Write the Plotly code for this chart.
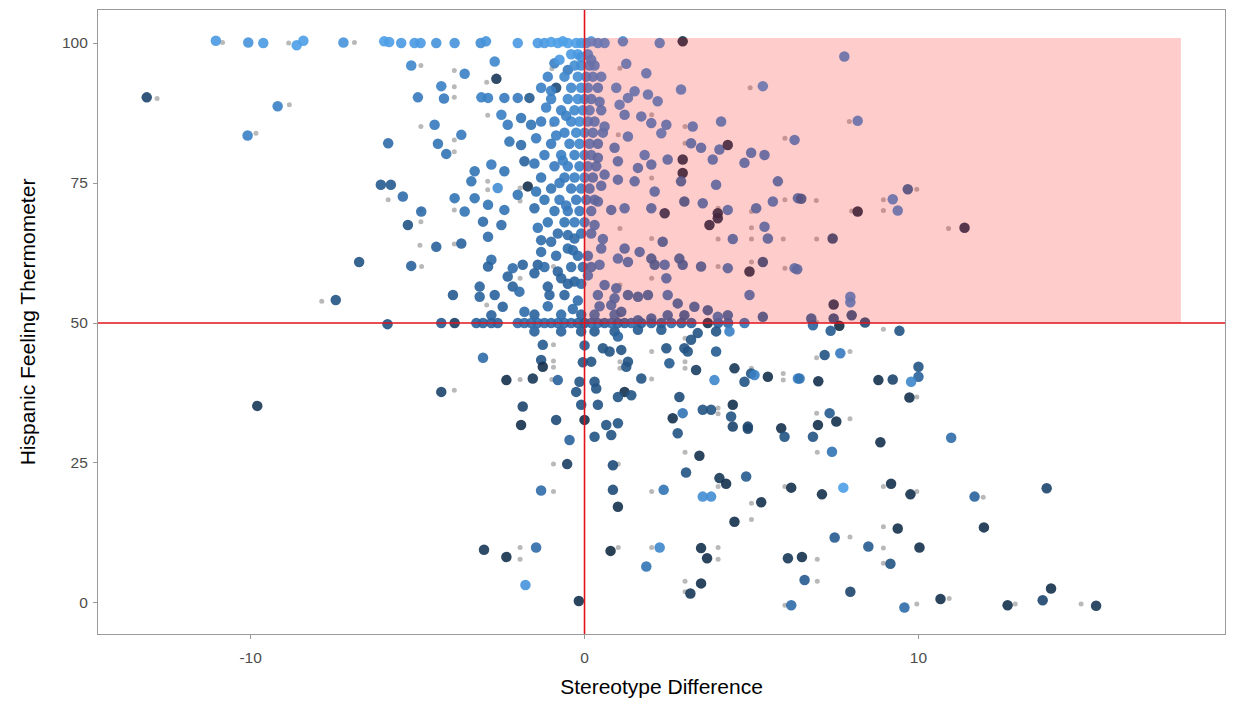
import plotly.graph_objects as go

# ---------------- data (x = stereotype difference, y = thermometer, c = shade 0 dark .. 1 light)
top_row = [
    (-11.04, 100.4, 0.8), (-10.07, 100.1, 0.75), (-9.62, 100.0, 0.8), (-8.62, 99.6, 0.85),
    (-8.42, 100.4, 0.85), (-7.22, 100.1, 0.75), (-6.0, 100.3, 0.85), (-5.85, 100.2, 0.85),
    (-5.49, 100.0, 0.8), (-5.09, 100.0, 0.8), (-4.91, 100.0, 0.8), (-4.44, 100.0, 0.75),
    (-3.89, 100.0, 0.75), (-3.11, 100.0, 0.7), (-2.95, 100.3, 0.75), (-2.0, 100.0, 0.8),
    (-1.4, 100.0, 0.8), (-1.2, 100.0, 0.8), (-1.0, 100.2, 0.85), (-0.8, 100.0, 0.85),
    (-0.65, 100.3, 0.85), (-0.5, 100.0, 0.85), (-0.25, 100.0, 0.85), (-0.1, 100.0, 0.8),
    (0.05, 100.0, 0.8), (0.2, 100.3, 0.8), (0.4, 100.0, 0.75), (0.6, 100.0, 0.75),
    (1.15, 100.3, 0.7), (2.25, 100.0, 0.7), (2.94, 100.3, 0.0),
]

upper_left = [
    (-13.11, 90.3, 0.2), (-9.19, 88.7, 0.6), (-10.09, 83.5, 0.6), (-5.88, 82.1, 0.45),
    (-6.1, 74.7, 0.35), (-5.8, 74.7, 0.35), (-5.19, 96.0, 0.65), (-3.59, 94.5, 0.6),
    (-2.69, 96.7, 0.65), (-2.64, 93.6, 0.1), (-4.29, 92.3, 0.6), (-4.99, 90.3, 0.55),
    (-4.21, 90.1, 0.55), (-3.09, 90.3, 0.6), (-2.89, 90.2, 0.6), (-2.4, 90.2, 0.55),
    (-2.0, 90.2, 0.55), (-1.65, 90.2, 0.35), (-1.3, 92.0, 0.6), (-0.85, 92.0, 0.25),
    (-0.9, 96.4, 0.6), (-0.5, 95.2, 0.55), (-4.49, 85.4, 0.55), (-3.69, 83.6, 0.55),
    (-4.39, 82.0, 0.5), (-4.14, 80.2, 0.5), (-2.3, 85.4, 0.55), (-2.49, 87.2, 0.6),
    (-1.9, 86.6, 0.5), (-1.6, 85.4, 0.5), (-2.25, 82.4, 0.5), (-1.9, 81.8, 0.45),
    (-1.8, 78.9, 0.4), (-2.79, 78.3, 0.55), (-3.29, 77.1, 0.5), (-3.39, 75.3, 0.5),
    (-2.4, 77.1, 0.5), (-2.6, 74.1, 0.7), (-1.7, 74.4, 0.05), (-2.0, 72.9, 0.5),
    (-5.44, 72.6, 0.45), (-4.89, 69.9, 0.45), (-3.89, 72.3, 0.5), (-3.59, 69.9, 0.5),
    (-3.29, 72.3, 0.5), (-2.89, 71.1, 0.5), (-2.4, 70.2, 0.5), (-1.5, 70.5, 0.45),
    (-5.29, 67.5, 0.3), (-4.44, 63.6, 0.4), (-3.69, 64.2, 0.4), (-5.19, 60.2, 0.4),
    (-3.04, 68.1, 0.45), (-2.89, 65.4, 0.45), (-2.49, 67.5, 0.45), (-2.79, 61.3, 0.45),
    (-2.89, 60.1, 0.4), (-2.15, 59.8, 0.45), (-1.85, 60.4, 0.4), (-2.3, 58.3, 0.4),
    (-2.15, 56.5, 0.4), (-1.95, 55.6, 0.45), (-1.5, 58.9, 0.4), (-1.4, 60.4, 0.4),
    (-1.3, 64.8, 0.45), (-1.0, 64.5, 0.45), (-1.3, 62.7, 0.45), (-0.8, 59.2, 0.4),
    (-0.7, 58.0, 0.4), (-0.5, 63.3, 0.45), (-0.3, 65.1, 0.45), (-0.5, 65.7, 0.45),
    (-1.1, 56.5, 0.4), (-1.05, 55.0, 0.4), (-0.6, 55.0, 0.4), (-0.3, 57.4, 0.4),
    (-3.94, 55.0, 0.35), (-3.14, 56.5, 0.4), (-3.14, 54.7, 0.4), (-2.69, 55.0, 0.4),
    (-2.45, 52.9, 0.4), (-2.79, 51.4, 0.4), (-6.75, 60.9, 0.3), (-7.45, 54.1, 0.3),
    (-5.9, 49.8, 0.3), (-9.8, 35.2, 0.1),
]

dense_core = [
    (-0.4, 98.0, 0.8), (-0.2, 98.0, 0.8), (-0.1, 97.5, 0.75), (0.1, 98.0, 0.75),
    (-0.3, 96.0, 0.7), (-0.1, 96.0, 0.7), (0.15, 96.0, 0.7), (0.3, 96.0, 0.7),
    (-1.1, 94.0, 0.6), (-0.6, 94.0, 0.65), (-0.2, 94.0, 0.7), (0.05, 94.0, 0.7), (0.25, 94.0, 0.7),
    (-0.4, 92.0, 0.65), (-0.1, 92.0, 0.7), (0.1, 92.0, 0.7), (0.4, 92.0, 0.65),
    (-1.0, 90.0, 0.6), (-0.5, 90.0, 0.65), (-0.2, 90.0, 0.7), (0.0, 90.0, 0.7), (0.2, 90.0, 0.65),
    (-0.7, 88.0, 0.6), (-0.3, 88.0, 0.65), (-0.05, 88.0, 0.7), (0.15, 88.0, 0.7), (0.5, 88.0, 0.65),
    (-1.3, 86.0, 0.55), (-0.9, 86.0, 0.6), (-0.4, 86.0, 0.65), (-0.15, 86.0, 0.7), (0.1, 86.0, 0.7), (0.3, 86.0, 0.65),
    (-0.6, 84.0, 0.6), (-0.25, 84.0, 0.65), (0.0, 84.0, 0.7), (0.25, 84.0, 0.65),
    (-1.0, 82.0, 0.55), (-0.45, 82.0, 0.6), (-0.15, 82.0, 0.65), (0.15, 82.0, 0.65), (0.4, 82.0, 0.6),
    (-1.2, 80.0, 0.55), (-0.7, 80.0, 0.6), (-0.3, 80.0, 0.6), (0.0, 80.0, 0.65), (0.2, 80.0, 0.65),
    (-0.9, 78.0, 0.55), (-0.5, 78.0, 0.6), (-0.15, 78.0, 0.6), (0.1, 78.0, 0.65), (0.35, 78.0, 0.6),
    (-1.3, 76.0, 0.5), (-0.6, 76.0, 0.55), (-0.3, 76.0, 0.6), (0.0, 76.0, 0.65), (0.25, 76.0, 0.6),
    (-1.0, 74.0, 0.5), (-0.4, 74.0, 0.55), (-0.1, 74.0, 0.6), (0.15, 74.0, 0.6),
    (-1.2, 72.0, 0.5), (-0.75, 72.0, 0.55), (-0.25, 72.0, 0.55), (0.05, 72.0, 0.6), (0.3, 72.0, 0.6),
    (-0.9, 70.0, 0.5), (-0.5, 70.0, 0.55), (-0.15, 70.0, 0.55), (0.2, 70.0, 0.6),
    (-1.1, 68.0, 0.5), (-0.6, 68.0, 0.5), (-0.3, 68.0, 0.55), (0.0, 68.0, 0.6),
    (-0.8, 66.0, 0.45), (-0.1, 66.0, 0.5), (0.2, 66.0, 0.6),
    (-0.2, 62.0, 0.45), (0.1, 62.0, 0.55), (-0.4, 60.0, 0.45), (-0.05, 60.0, 0.45), (0.2, 60.0, 0.55),
    (-0.5, 57.0, 0.4), (-0.1, 57.0, 0.45), (-1.5, 51.5, 0.4), (-0.7, 51.5, 0.45), (-0.1, 51.5, 0.4),
    (0.3, 51.5, 0.5), (0.9, 51.5, 0.5), (-1.5, 48.5, 0.4), (-0.7, 48.5, 0.4), (-0.1, 48.5, 0.35),
    (0.3, 48.5, 0.35), (0.9, 48.5, 0.35),
    (-0.75, 97.0, 0.8), (-1.15, 88.5, 0.6), (-0.55, 87.0, 0.6), (-1.45, 83.0, 0.55), (-0.85, 83.5, 0.6),
    (-1.5, 78.5, 0.5), (-0.75, 75.0, 0.55), (-1.45, 73.5, 0.5), (-0.55, 71.0, 0.55), (-1.4, 67.0, 0.5),
    (-0.85, 62.0, 0.45), (-1.2, 60.0, 0.45), (-0.2, 54.0, 0.45), (0.4, 55.0, 0.55), (0.45, 53.0, 0.55),
    (-0.35, 52.5, 0.45), (-1.1, 53.0, 0.45), (-1.8, 52.0, 0.45), (0.55, 65.0, 0.6), (0.5, 74.5, 0.6),
    (0.55, 84.0, 0.65), (0.5, 94.0, 0.7), (-0.35, 63.0, 0.45), (-0.65, 79.0, 0.6), (-1.0, 91.5, 0.6),
]

fifty_row = [
    (-4.29, 50.0, 0.35), (-3.89, 50.0, 0.15), (-3.24, 50.0, 0.4), (-3.04, 50.0, 0.4),
    (-2.79, 50.0, 0.4), (-2.6, 50.0, 0.4), (-2.0, 50.0, 0.45), (-1.8, 50.0, 0.45),
    (-1.6, 50.0, 0.45), (-1.4, 50.0, 0.45), (-1.2, 50.0, 0.45), (-1.0, 50.0, 0.45),
    (-0.8, 50.0, 0.45), (-0.6, 50.0, 0.45), (-0.4, 50.0, 0.45), (-0.2, 50.0, 0.4),
    (0.0, 50.0, 0.35), (0.2, 50.0, 0.45), (0.4, 50.0, 0.45), (0.6, 50.0, 0.4),
    (0.8, 50.0, 0.45), (1.0, 50.0, 0.4), (1.2, 50.0, 0.4), (1.4, 50.0, 0.45),
    (1.7, 50.0, 0.4), (2.0, 50.0, 0.4), (2.3, 50.0, 0.4), (2.6, 50.0, 0.45),
    (2.9, 50.0, 0.4), (3.2, 50.0, 0.4), (3.69, 50.0, 0.05), (4.0, 50.0, 0.4),
    (4.3, 50.0, 0.45), (4.79, 50.0, 0.5),
]

pink_region = [
    (1.25, 96.3, 0.7), (1.85, 94.6, 0.7), (0.95, 92.0, 0.7), (1.5, 91.4, 0.7), (1.9, 90.8, 0.7),
    (2.19, 89.6, 0.7), (2.89, 91.7, 0.7), (5.34, 92.3, 0.75), (1.05, 89.0, 0.7), (1.3, 90.2, 0.7),
    (1.2, 87.2, 0.65), (1.7, 86.9, 0.65), (2.0, 85.7, 0.65), (2.45, 85.4, 0.65), (3.24, 85.1, 0.65),
    (4.09, 86.0, 0.65), (6.29, 82.7, 0.65), (0.6, 85.1, 0.65), (1.3, 83.3, 0.65), (2.3, 83.9, 0.7),
    (3.19, 82.1, 0.6), (3.49, 81.3, 0.6), (4.04, 81.0, 0.6), (4.29, 81.8, 0.05), (4.99, 80.4, 0.6),
    (5.39, 80.0, 0.6), (4.79, 78.6, 0.6), (3.84, 79.2, 0.6), (2.94, 79.2, 0.05), (2.94, 76.8, 0.0),
    (2.49, 79.2, 0.6), (1.8, 80.0, 0.65), (0.9, 81.3, 0.6), (1.0, 78.9, 0.6), (1.6, 77.7, 0.6),
    (2.0, 78.3, 0.6), (0.4, 79.5, 0.6), (1.5, 75.3, 0.6), (1.0, 75.6, 0.6), (0.6, 76.5, 0.6),
    (2.1, 73.5, 0.6), (2.89, 75.3, 0.45), (3.94, 74.7, 0.6), (5.79, 75.3, 0.55), (6.39, 72.3, 0.55),
    (5.64, 71.7, 0.6), (2.99, 71.7, 0.4), (3.54, 71.4, 0.55), (3.99, 69.6, 0.05), (4.29, 70.2, 0.6),
    (5.14, 70.5, 0.55), (2.4, 69.6, 0.1), (2.0, 70.5, 0.55), (1.2, 70.5, 0.6), (0.8, 70.2, 0.55),
    (0.4, 71.7, 0.6), (7.78, 97.6, 0.7), (8.18, 86.1, 0.7), (6.49, 72.2, 0.4), (9.68, 73.9, 0.4),
    (9.23, 72.1, 0.7), (9.38, 70.1, 0.7), (8.18, 69.9, 0.0), (3.74, 67.5, 0.05), (3.99, 68.7, 0.05),
    (5.39, 67.2, 0.6), (5.49, 65.1, 0.55), (4.44, 65.0, 0.55), (2.34, 64.5, 0.45), (1.2, 63.3, 0.55),
    (1.65, 62.7, 0.55), (2.0, 61.5, 0.45), (2.1, 60.4, 0.45), (2.84, 61.5, 0.45), (2.94, 60.4, 0.45),
    (2.4, 60.4, 0.55), (3.49, 60.1, 0.45), (4.29, 59.8, 0.55), (4.94, 59.2, 0.05), (5.34, 60.9, 0.3),
    (6.29, 59.8, 0.65), (2.45, 58.0, 0.55), (1.3, 60.9, 0.55), (1.0, 61.5, 0.6), (0.5, 63.3, 0.6),
    (0.45, 60.4, 0.6), (0.6, 56.8, 0.55), (0.95, 56.2, 0.55), (1.3, 55.0, 0.45), (1.6, 54.7, 0.45),
    (1.9, 55.0, 0.45), (2.49, 55.0, 0.55), (2.79, 53.5, 0.45), (3.29, 52.9, 0.45), (3.69, 52.3, 0.4),
    (4.94, 55.0, 0.55), (4.29, 51.4, 0.45), (5.34, 51.1, 0.4), (0.8, 53.2, 0.55), (1.1, 52.0, 0.45),
    (0.9, 54.4, 0.55), (2.49, 51.4, 0.45), (2.99, 51.4, 0.4), (2.0, 50.8, 0.45), (1.6, 50.5, 0.45),
    (3.99, 51.1, 0.55), (11.38, 67.0, 0.05), (7.43, 65.1, 0.25), (6.37, 59.6, 0.6), (7.46, 53.3, 0.1),
    (7.96, 54.7, 0.7), (7.96, 53.7, 0.7), (8.0, 51.4, 0.3), (6.79, 50.8, 0.4), (7.46, 50.8, 0.3),
    (8.4, 50.1, 0.25), (0.2, 97.0, 0.7), (0.1, 58.5, 0.6), (0.3, 67.5, 0.6), (0.45, 89.5, 0.65),
]

lower_region = [
    (-1.25, 46.1, 0.35), (-1.3, 43.4, 0.3), (-1.25, 42.2, 0.05), (-0.8, 39.8, 0.4), (-1.55, 40.1, 0.1),
    (-2.34, 39.8, 0.05), (-3.04, 43.8, 0.45), (-4.29, 37.7, 0.2), (-0.25, 37.7, 0.3), (-1.85, 35.1, 0.2),
    (-0.85, 32.7, 0.25), (-1.9, 31.8, 0.05), (0.0, 32.7, 0.05), (-0.1, 35.4, 0.3), (-0.15, 39.5, 0.3),
    (-0.05, 43.0, 0.3), (-0.45, 29.1, 0.4), (-0.52, 24.8, 0.15), (-1.3, 20.1, 0.45), (-3.01, 9.5, 0.1),
    (-2.34, 8.2, 0.05), (-1.45, 9.9, 0.45), (-1.77, 3.2, 0.75), (-0.17, 0.36, 0.05), (0.0, 46.0, 0.35),
    (6.84, 49.6, 0.4), (7.63, 49.5, 0.0), (7.37, 48.6, 0.35), (9.43, 48.6, 0.3), (1.0, 47.6, 0.4),
    (1.6, 48.8, 0.35), (2.3, 48.8, 0.35), (3.39, 48.2, 0.3), (3.94, 48.5, 0.3), (4.34, 48.5, 0.6),
    (3.19, 47.0, 0.3), (0.55, 45.5, 0.3), (0.75, 44.9, 0.3), (1.1, 45.2, 0.3), (2.45, 45.5, 0.3),
    (2.99, 45.5, 0.3), (3.09, 44.9, 0.3), (3.94, 44.9, 0.35), (0.2, 43.1, 0.3), (1.3, 43.1, 0.3),
    (1.25, 42.2, 0.3), (2.54, 42.8, 0.35), (3.34, 41.6, 0.15), (4.49, 41.9, 0.1), (4.99, 41.0, 0.3),
    (5.09, 40.7, 0.6), (5.49, 40.4, 0.05), (6.39, 40.1, 0.6), (3.89, 39.8, 0.65), (1.7, 40.1, 0.3),
    (4.79, 39.5, 0.3), (0.3, 39.5, 0.3), (0.35, 38.3, 0.3), (1.2, 37.7, 0.05), (1.0, 36.8, 0.3),
    (1.4, 37.1, 0.3), (0.4, 35.4, 0.3), (2.84, 36.8, 0.25), (2.94, 33.9, 0.5), (2.64, 33.0, 0.05),
    (3.54, 34.5, 0.3), (3.79, 34.5, 0.3), (4.44, 35.4, 0.05), (4.39, 33.3, 0.3), (4.89, 31.5, 0.2),
    (5.89, 31.2, 0.05), (0.65, 31.8, 0.3), (1.0, 32.1, 0.3), (7.19, 44.3, 0.3), (7.66, 44.6, 0.55),
    (6.44, 40.1, 0.5), (7.0, 39.6, 0.05), (8.8, 39.8, 0.05), (9.23, 39.9, 0.2), (10.0, 42.2, 0.3),
    (10.0, 40.4, 0.4), (9.78, 39.5, 0.65), (9.73, 36.7, 0.05), (7.34, 33.9, 0.35), (7.54, 32.4, 0.05),
    (6.99, 31.8, 0.05), (0.3, 29.7, 0.3), (0.8, 30.0, 0.3), (2.79, 30.3, 0.3), (4.44, 31.5, 0.2),
    (4.89, 31.1, 0.2), (5.99, 29.7, 0.3), (3.44, 26.3, 0.05), (0.85, 24.6, 0.25), (3.04, 23.3, 0.3),
    (4.04, 22.3, 0.1), (4.24, 21.3, 0.05), (4.84, 22.6, 0.35), (6.19, 20.6, 0.05), (0.85, 20.2, 0.25),
    (2.37, 20.2, 0.5), (3.54, 19.0, 0.7), (3.79, 19.0, 0.7), (1.0, 17.2, 0.05), (5.29, 18.0, 0.05),
    (4.49, 14.5, 0.05), (0.78, 9.3, 0.0), (2.25, 9.9, 0.65), (1.85, 6.5, 0.5), (3.49, 9.8, 0.05),
    (3.67, 8.0, 0.05), (3.49, 3.5, 0.05), (3.17, 1.7, 0.1), (6.09, 8.0, 0.1), (6.19, -0.4, 0.45),
    (6.84, 29.7, 0.3), (7.41, 27.0, 0.5), (8.86, 28.7, 0.05), (10.98, 29.5, 0.45), (7.75, 20.6, 0.85),
    (7.11, 19.4, 0.05), (9.18, 21.3, 0.05), (9.76, 19.4, 0.05), (11.68, 19.0, 0.4), (13.84, 20.5, 0.2),
    (11.96, 13.5, 0.05), (9.38, 13.3, 0.05), (7.49, 11.7, 0.35), (8.5, 10.1, 0.35), (10.03, 9.9, 0.05),
    (6.51, 8.2, 0.05), (9.16, 7.0, 0.3), (6.59, 4.1, 0.35), (7.96, 2.0, 0.2), (9.58, -0.8, 0.45),
    (10.66, 0.7, 0.05), (12.67, -0.4, 0.05), (13.72, 0.5, 0.2), (13.97, 2.6, 0.05), (15.32, -0.5, 0.1),
]

grey_left = [
    (-10.84, 100.1), (-8.86, 100.0), (-6.89, 100.1), (-12.8, 90.1), (-8.84, 89.0), (-9.84, 83.9),
    (-5.88, 72.0), (-7.87, 53.9), (-4.9, 68.1), (-4.93, 63.9), (-3.9, 64.1), (-4.88, 60.1),
    (-1.93, 58.0), (-0.93, 60.1), (-2.93, 53.2), (-0.93, 46.1), (-0.93, 43.2), (-0.93, 42.1),
    (-1.93, 39.9), (-3.9, 38.0), (-0.98, 39.9), (-0.93, 24.8), (-0.93, 19.9), (-1.93, 9.9),
    (-1.93, 7.8), (-4.9, 96.0), (-3.9, 95.1), (-2.93, 93.0), (-3.9, 92.2), (-3.9, 90.3),
    (-2.9, 87.1), (-4.9, 85.1), (-3.9, 82.7), (-3.9, 80.6), (-2.9, 75.3), (-2.9, 73.8),
    (-1.93, 74.1), (-1.93, 71.8), (-4.9, 70.2), (-3.9, 70.2), (-0.98, 85.4), (-0.98, 95.4),
]

grey_right = [
    (2.01, 87.2), (1.06, 95.5), (3.01, 85.1), (3.01, 82.1), (4.96, 92.0), (6.0, 83.0),
    (1.01, 83.6), (2.01, 75.9), (4.0, 70.5), (5.0, 69.9), (6.0, 72.0), (6.94, 71.9),
    (7.93, 86.0), (8.95, 72.0), (8.95, 70.1), (9.95, 73.9), (8.0, 70.0), (1.06, 66.9),
    (2.01, 65.1), (4.0, 65.0), (5.0, 67.0), (5.0, 65.0), (5.95, 65.0), (4.0, 60.1),
    (5.0, 60.9), (6.0, 59.8), (2.01, 58.0), (1.06, 56.8), (1.06, 51.4), (3.01, 47.3),
    (2.01, 44.9), (1.06, 43.1), (1.06, 41.9), (3.01, 43.1), (3.01, 41.9), (2.01, 40.0),
    (5.0, 41.9), (5.95, 41.0), (5.95, 39.8), (4.0, 34.8), (4.0, 33.8), (10.9, 66.9),
    (6.95, 65.0), (6.95, 50.2), (8.95, 48.9), (7.95, 44.9), (6.95, 43.8), (9.95, 36.8),
    (6.95, 33.9), (7.95, 32.9), (3.01, 26.9), (1.01, 24.8), (2.01, 19.9), (4.0, 20.8),
    (5.0, 17.8), (5.0, 14.9), (6.0, 20.8), (1.01, 9.9), (2.01, 9.9), (4.0, 9.9), (4.0, 7.8),
    (3.01, 3.9), (3.01, 2.0), (6.0, -0.4), (6.97, 26.9), (8.95, 20.8), (9.95, 19.9),
    (11.94, 18.9), (8.95, 13.6), (7.95, 11.8), (8.95, 9.8), (6.97, 7.8), (8.95, 7.1),
    (6.97, 3.9), (9.95, -0.2), (10.92, 0.8), (12.9, -0.2), (14.87, -0.2),
]

x_ticks = [-10, 0, 10]
x_tick_labels = ["-10", "0", "10"]
y_ticks = [0, 25, 50, 75, 100]

# ---------------- figure
big = top_row + upper_left + dense_core + fifty_row + pink_region + lower_region
grey = grey_left + grey_right

fig = go.Figure()
fig.add_trace(go.Scatter(
    x=[p[0] for p in grey], y=[p[1] for p in grey], mode="markers",
    marker=dict(size=5, color="rgba(128,128,128,0.55)", line=dict(width=0)),
    hoverinfo="skip", showlegend=False))
fig.add_trace(go.Scatter(
    x=[p[0] for p in big], y=[p[1] for p in big], mode="markers",
    marker=dict(size=10.5, color=[p[2] for p in big], cmin=0, cmax=1,
                colorscale=[[0, "#132B43"], [0.25, "#1E4B78"], [0.5, "#3173B4"],
                            [0.75, "#4693DC"], [1, "#56B1F7"]],
                showscale=False, opacity=0.9, line=dict(width=0)),
    showlegend=False))

fig.add_shape(type="rect", x0=0, x1=17.86, y0=50, y1=100.9, xref="x", yref="y",
              fillcolor="rgba(255,0,0,0.2)", line=dict(width=0), layer="above")
fig.add_shape(type="line", x0=0, x1=0, y0=0, y1=1, xref="x", yref="paper",
              line=dict(color="#E0141C", width=1.6), layer="above")
fig.add_shape(type="line", x0=0, x1=1, y0=50, y1=50, xref="paper", yref="y",
              line=dict(color="#E0141C", width=1.6), layer="above")

axis_common = dict(showgrid=False, zeroline=False, showline=True, mirror=True,
                   linecolor="#9a9a9a", linewidth=1.2, ticks="outside", ticklen=4,
                   tickcolor="#9a9a9a", tickfont=dict(size=15.5, color="#4D4D4D",
                                                      family="Liberation Sans"))
fig.update_xaxes(range=[-14.57, 19.18], tickvals=x_ticks, ticktext=x_tick_labels,
                 ticklabelstandoff=5,
                 title=dict(text="Stereotype Difference", standoff=14,
                            font=dict(size=21, color="black", family="Liberation Sans")),
                 **axis_common)
fig.update_yaxes(range=[-5.54, 105.9], tickvals=y_ticks,
                 ticklabelstandoff=2,
                 title=dict(text="Hispanic Feeling Thermometer", standoff=20,
                            font=dict(size=21, color="black", family="Liberation Sans")),
                 **axis_common)
fig.update_layout(width=1236, height=706, margin=dict(l=98, r=11, t=10, b=72),
                  plot_bgcolor="white", paper_bgcolor="white")
fig.write_html("out.html")
